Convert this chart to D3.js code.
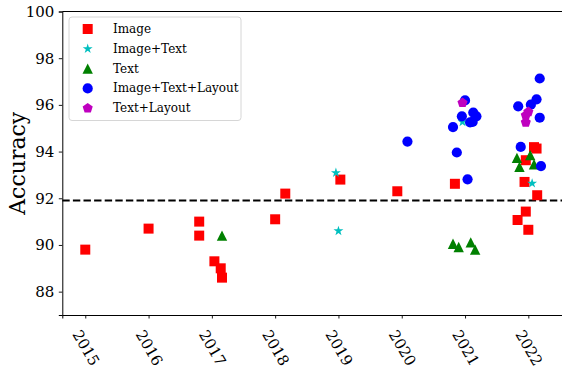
<!DOCTYPE html>
<html>
<head>
<meta charset="utf-8">
<script src="https://cdn.jsdelivr.net/npm/d3@7"></script>
<style>
  html, body { margin: 0; padding: 0; background: #fff; }
  svg { display: block; }
  text { font-family: "DejaVu Serif", serif; fill: #000; }
</style>
</head>
<body>
<svg id="chart" width="562" height="369"></svg>
<script>
// ---- Data ----
const seriesNames = ["Image", "Image+Text", "Text", "Image+Text+Layout", "Text+Layout"];

const imageYears = [2015.0, 2016.0, 2016.8, 2016.8, 2017.04, 2017.14, 2017.16, 2018.0, 2018.16, 2019.03, 2019.93, 2020.84,
                    2022.09, 2022.13, 2021.96, 2021.94, 2022.14, 2021.96, 2021.83, 2022.0];
const imageAcc   = [89.8, 90.7, 91.0, 90.4, 89.3, 89.0, 88.6, 91.1, 92.2, 92.8, 92.3, 92.62,
                    94.19, 94.13, 93.63, 92.7, 92.13, 91.43, 91.07, 90.65];

const imageTextYears = [2018.96, 2019.0, 2020.96, 2022.06];
const imageTextAcc   = [93.09, 90.6, 95.27, 92.64];

const textYears = [2017.16, 2020.81, 2020.90, 2021.09, 2021.16, 2021.82, 2022.03, 2021.86, 2022.09];
const textAcc   = [90.4, 90.05, 89.91, 90.11, 89.8, 93.73, 93.85, 93.35, 93.46];

const itlYears = [2020.09, 2021.0, 2020.95, 2021.13, 2021.18, 2021.08, 2021.12, 2020.81, 2020.87, 2021.04,
                  2022.18, 2022.13, 2022.04, 2021.84, 2022.18, 2021.88, 2022.2];
const itlAcc   = [94.43, 96.19, 95.51, 95.67, 95.51, 95.25, 95.27, 95.05, 93.96, 92.81,
                  97.13, 96.24, 96.01, 95.94, 95.45, 94.2, 93.38];

const tlYears = [2020.96, 2022.0, 2021.96, 2021.96];
const tlAcc   = [96.09, 95.7, 95.55, 95.25];

const baseline = 91.9;
const xTicks = [2015, 2016, 2017, 2018, 2019, 2020, 2021, 2022];
const yTicks = [88, 90, 92, 94, 96, 98, 100];
const yLabel = "Accuracy";

// ---- Layout ----
const svg = d3.select("#chart");
const mLeft = 62.3, mRight = 562, mTop = 11.5, mBottom = 315;

const x = d3.scaleLinear().domain([2014.637, 2022.532]).range([mLeft, mRight]);
const y = d3.scaleLinear().domain([87, 100]).range([mBottom, mTop]);

// marker paths (matplotlib-like)
function squarePath(s) { const h = s / 2; return `M${-h},${-h}H${h}V${h}H${-h}Z`; }
function circlePath(r) { return `M${r},0A${r},${r} 0 1,1 ${-r},0A${r},${r} 0 1,1 ${r},0Z`; }
function trianglePath(h) { return `M0,${-h}L${h},${h}L${-h},${h}Z`; }
function polyPath(r, n) {
  const pts = d3.range(n).map(i => { const a = -Math.PI / 2 + i * 2 * Math.PI / n; return [r * Math.cos(a), r * Math.sin(a)]; });
  return "M" + pts.map(p => p.join(",")).join("L") + "Z";
}
function starPath(r, inner) {
  const pts = d3.range(10).map(i => { const rr = i % 2 === 0 ? r : r * inner; const a = -Math.PI / 2 + i * Math.PI / 5; return [rr * Math.cos(a), rr * Math.sin(a)]; });
  return "M" + pts.map(p => p.join(",")).join("L") + "Z";
}

const series = [
  { name: seriesNames[0], xs: imageYears, ys: imageAcc, color: "#ff0000", path: squarePath(10) },
  { name: seriesNames[1], xs: imageTextYears, ys: imageTextAcc, color: "#00bfbf", path: starPath(5.2, 0.382) },
  { name: seriesNames[2], xs: textYears, ys: textAcc, color: "#008000", path: trianglePath(5.2) },
  { name: seriesNames[3], xs: itlYears, ys: itlAcc, color: "#0000ff", path: circlePath(5.1) },
  { name: seriesNames[4], xs: tlYears, ys: tlAcc, color: "#bf00bf", path: polyPath(5.3, 5) },
];

// Axes
const gx = svg.append("g").attr("transform", `translate(0,${mBottom})`)
  .call(d3.axisBottom(x).tickValues(xTicks).tickSize(3.5).tickFormat(d3.format("d")));
gx.select(".domain").attr("stroke", "#000").attr("stroke-width", 1);
gx.selectAll(".tick line").attr("stroke", "#000").attr("stroke-width", 0.9);
gx.selectAll(".tick text")
  .attr("font-size", 15).attr("font-family", "DejaVu Serif")
  .attr("text-anchor", "middle").attr("dy", null).attr("y", null)
  .attr("dominant-baseline", "central")
  .attr("transform", "translate(0,33) rotate(60)");

const gy = svg.append("g").attr("transform", `translate(${mLeft},0)`)
  .call(d3.axisLeft(y).tickValues(yTicks).tickSize(3.5).tickFormat(d3.format("d")));
gy.select(".domain").attr("stroke", "#000").attr("stroke-width", 1);
gy.selectAll(".tick line").attr("stroke", "#000").attr("stroke-width", 0.9);
gy.selectAll(".tick text").attr("font-size", 15).attr("font-family", "DejaVu Serif").attr("x", -8);

// top spine
svg.append("line").attr("x1", mLeft).attr("x2", mRight).attr("y1", mTop).attr("y2", mTop)
  .attr("stroke", "#000").attr("stroke-width", 1);

// y label
svg.append("text")
  .attr("transform", `translate(25,${(mTop + mBottom) / 2}) rotate(-90)`)
  .attr("text-anchor", "middle")
  .attr("font-size", 22)
  .text(yLabel);

// baseline dashed
svg.append("line")
  .attr("x1", mLeft).attr("x2", mRight)
  .attr("y1", y(baseline)).attr("y2", y(baseline))
  .attr("stroke", "#000").attr("stroke-width", 2).attr("stroke-dasharray", "7.4,3.2");

// points
const plot = svg.append("g");
series.forEach(s => {
  plot.append("g").selectAll("path")
    .data(s.xs.map((d, i) => [d, s.ys[i]]))
    .join("path")
    .attr("d", s.path)
    .attr("transform", d => `translate(${x(d[0])},${y(d[1])})`)
    .attr("fill", s.color);
});

// legend
const lg = svg.append("g");
lg.append("rect").attr("x", 69).attr("y", 17).attr("width", 172).attr("height", 103.5)
  .attr("rx", 3).attr("fill", "#fff").attr("fill-opacity", 0.8)
  .attr("stroke", "#d6d6d6").attr("stroke-width", 1);
series.forEach((s, i) => {
  const yy = 29 + i * 19.8;
  lg.append("path").attr("d", s.path).attr("transform", `translate(87.7,${yy})`).attr("fill", s.color);
  lg.append("text").attr("x", 113).attr("y", yy).attr("dominant-baseline", "central")
    .attr("font-size", 12).text(s.name);
});
</script>
</body>
</html>
